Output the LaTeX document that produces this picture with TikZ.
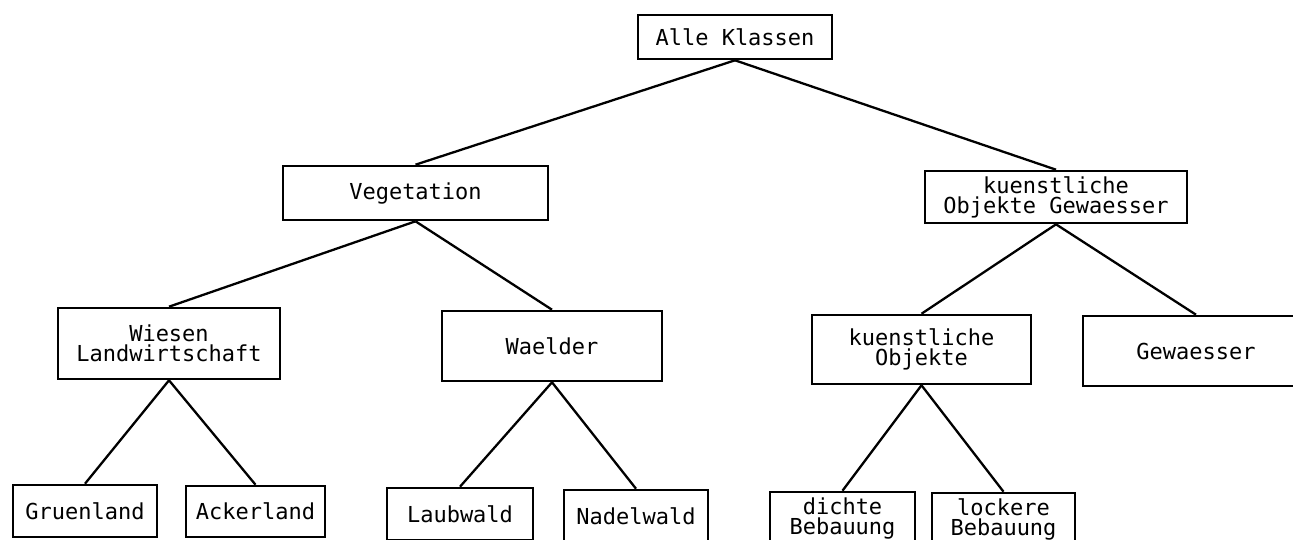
\documentclass[tikz,border=0pt]{standalone}
\usepackage{fontspec}
\newfontfamily\plotfont{DejaVu Sans Mono}
\begin{document}
\begin{tikzpicture}[x=1pt,y=-1pt,
  box/.style={draw=black, line width=2.6pt, rectangle, inner sep=0pt, align=center,
    font=\plotfont\fontsize{22}{20}\selectfont},
  link/.style={draw=black, line width=2.3pt}]
\useasboundingbox (0,0) rectangle (1293,539);
\fill[white] (0,0) rectangle (1293,539);
\clip (0,0) rectangle (1293,539);
% level 0
\node[box, minimum width=194pt, minimum height=44pt] (all) at (735,37) {Alle Klassen};
% level 1
\node[box, minimum width=265pt, minimum height=54pt] (veg) at (415.5,193) {Vegetation};
\node[box, minimum width=262pt, minimum height=52pt] (kog) at (1056,197) {kuenstliche\\Objekte Gewaesser};
% level 2
\node[box, minimum width=222pt, minimum height=71pt] (wies) at (169,343.5) {Wiesen\\Landwirtschaft};
\node[box, minimum width=220pt, minimum height=70pt] (wael) at (552,346) {Waelder};
\node[box, minimum width=219pt, minimum height=69pt] (ko) at (921.5,349.5) {kuenstliche\\Objekte};
\node[box, minimum width=226pt, minimum height=70pt] (gew) at (1196,351) {Gewaesser};
% level 3
\node[box, minimum width=144pt, minimum height=52pt] (grue) at (85,511) {Gruenland};
\node[box, minimum width=139pt, minimum height=51pt] (ack) at (255.5,511.5) {Ackerland};
\node[box, minimum width=146pt, minimum height=52pt] (laub) at (460,514) {Laubwald};
\node[box, minimum width=144pt, minimum height=52pt] (nadel) at (636,516) {Nadelwald};
\node[box, minimum width=145pt, minimum height=52pt] (dicht) at (842.5,518) {dichte\\Bebauung};
\node[box, minimum width=143pt, minimum height=52pt] (lock) at (1003.5,519) {lockere\\Bebauung};
% connectors
\draw[link] (all.south) -- (veg.north);
\draw[link] (all.south) -- (kog.north);
\draw[link] (veg.south) -- (wies.north);
\draw[link] (veg.south) -- (wael.north);
\draw[link] (kog.south) -- (ko.north);
\draw[link] (kog.south) -- (gew.north);
\draw[link] (wies.south) -- (grue.north);
\draw[link] (wies.south) -- (ack.north);
\draw[link] (wael.south) -- (laub.north);
\draw[link] (wael.south) -- (nadel.north);
\draw[link] (ko.south) -- (dicht.north);
\draw[link] (ko.south) -- (lock.north);
\end{tikzpicture}
\end{document}
